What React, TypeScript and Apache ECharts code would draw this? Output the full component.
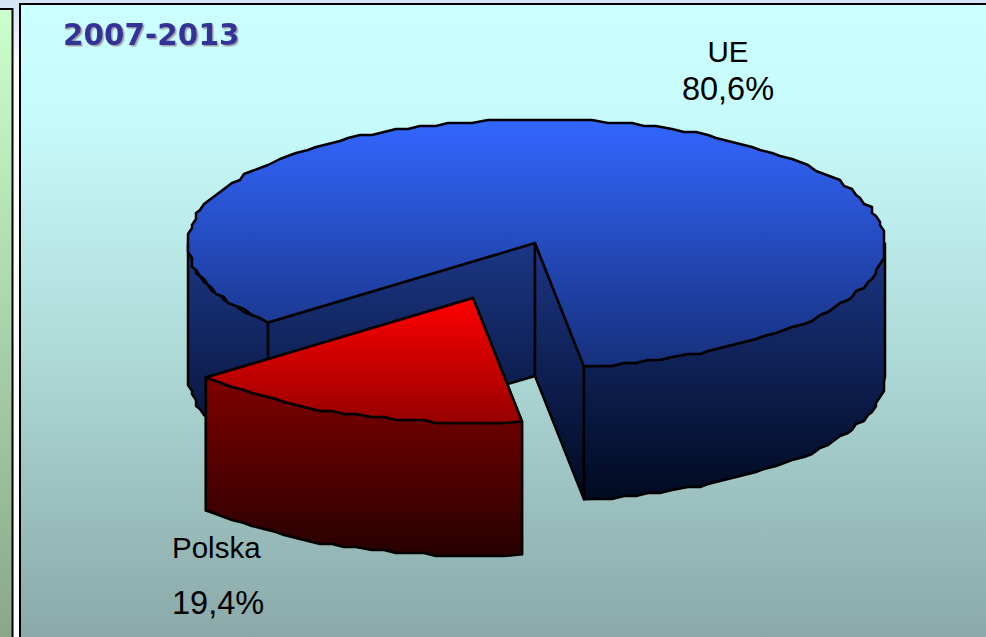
import React, { useEffect, useRef } from "react";
import * as echarts from "echarts";

const categories = ["UE", "Polska"];
const values = [80.6, 19.4];
const periodTitle = "2007-2013";

const W = 986, H = 637;
const CX = 536.5, CY = 243.5, RX = 348.5, RY = 124, DEPTH = 133;
const APEX_SHIFT = -1.5;
const START_DEG = 7.83;
const PERSPECTIVE_WARP = 0.834;
const EXPLODE = [[0, 0], [-62, 55]];
const LABEL_POS = [
  { x: 728, y: 51, gap: 38, align: "center" },
  { x: 172, y: 547, gap: 56, align: "left" },
];
const LG = (y0: number, y1: number, c0: string, c1: string) =>
  new echarts.graphic.LinearGradient(0, y0, 0, y1, [{ offset: 0, color: c0 }, { offset: 1, color: c1 }], true);
const FACE_STYLE = [
  { top: () => LG(120, 366, "#3366ff", "#16307c"), side: () => LG(243, 499, "#1c3685", "#000a20") },
  { top: () => LG(298, 424, "#ff0000", "#960000"), side: () => LG(378, 557, "#800000", "#260000") },
];

const rad = (d: number) => (d * Math.PI) / 180;
const pt = (cx: number, cy: number, t: number) => [cx + RX * Math.sin(rad(t)), cy + RY * Math.cos(rad(t))];
// the reference's outline is a coarse, pixel-snapped polyline
const arc = (cx: number, cy: number, t0: number, t1: number) => {
  const out: number[][] = [pt(cx, cy, t0)];
  const step = 2.2;
  for (let t = t0 + step; t < t1 - step / 2; t += step) {
    const p = pt(cx, cy, t);
    out.push([Math.round(p[0] / 4) * 4, Math.round(p[1] / 3) * 3]);
  }
  out.push(pt(cx, cy, t1));
  return out;
};
const down = (pts: number[][]) => pts.map((p) => [p[0], p[1] + DEPTH]).reverse();

function sliceAngles() {
  const total = values.reduce((a, b) => a + b, 0);
  const small = (values[1] / total) * 360 * PERSPECTIVE_WARP;
  const big = 360 - small;
  return [
    [START_DEG, START_DEG + big],
    [START_DEG + big, START_DEG + big + small],
  ];
}

export default function App() {
  const ref = useRef<HTMLDivElement>(null);
  useEffect(() => {
    document.body.style.margin = "0";
    const chart = echarts.init(ref.current!, null, { renderer: "svg" });
    const angles = sliceAngles();
    const stroke = { stroke: "#000", lineWidth: 2.5, lineJoin: "round" };
    const renderItem = (params: any, api: any) => {
      const i = params.dataIndex;
      const val = api.value(0) as number;
      const [t0, t1] = angles[i];
      const cx = CX + EXPLODE[i][0], cy = CY + EXPLODE[i][1];
      const rim = arc(cx, cy, t0, t1);
      const a = rim[0], b = rim[rim.length - 1];
      const apex = [cx + APEX_SHIFT, cy - 0.5];
      const children: any[] = [];
      const poly = (points: number[][], fill: any) => ({
        type: "polygon",
        shape: { points },
        style: { fill, ...stroke },
      });
      const wall = (p: number[], q: number[]) =>
        poly([p, q, [q[0], q[1] + DEPTH], [p[0], p[1] + DEPTH]], FACE_STYLE[i].side());
      children.push(wall(apex, b));
      children.push(wall(apex, a));
      const fronts: number[][] = [];
      for (const [lo, hi] of [[-90, 90], [270, 450]]) {
        const s = Math.max(t0, lo), e = Math.min(t1, hi);
        if (e > s) fronts.push([s, e]);
      }
      for (const [s, e] of fronts) {
        const top = arc(cx, cy, s, e);
        children.push(poly([...top, ...down(top)], FACE_STYLE[i].side()));
      }
      children.push(poly([apex, ...rim], FACE_STYLE[i].top()));
      const lp = LABEL_POS[i];
      const txt = (text: string, y: number, fontSize: number) => ({
        type: "text",
        x: lp.x,
        y,
        style: {
          text,
          fill: "#000",
          align: lp.align,
          verticalAlign: "middle",
          fontFamily: "'Liberation Sans'",
          fontSize,
          lineHeight: fontSize,
        },
      });
      children.push(txt(categories[i], lp.y, 29.5));
      children.push(txt(val.toFixed(1).replace(".", ",") + "%", lp.y + lp.gap, 32.5));
      return { type: "group", children };
    };

    chart.setOption({
      animation: false,
      title: {
        text: periodTitle,
        left: 58,
        top: 15,
        textStyle: {
          fontFamily: "'DejaVu Sans'",
          fontWeight: "bold",
          fontSize: 29.5,
          color: "#333399",
          textShadowColor: "#a0a0a8",
          textShadowOffsetX: 1.5,
          textShadowOffsetY: 1.5,
          textShadowBlur: 1,
        },
      },
      graphic: [
        {
          type: "rect",
          silent: true,
          shape: { x: 0, y: 0, width: W, height: H },
          style: {
            fill: new echarts.graphic.LinearGradient(0, 0, 0, 70, [
              { offset: 0, color: "#d3e4f6" },
              { offset: 1, color: "#ffffff" },
            ], true),
          },
        },
        {
          type: "rect",
          silent: true,
          shape: { x: -4, y: 9, width: 16.5, height: H + 10 },
          style: {
            fill: LG(9, H, "#ccffcc", "#89a889"),
            stroke: "#000",
            lineWidth: 2,
          },
        },
        {
          type: "rect",
          silent: true,
          shape: { x: 20, y: 4, width: W, height: H + 10 },
          style: {
            fill: new echarts.graphic.LinearGradient(0, 4, 0, H, [
              { offset: 0, color: "#ccffff" },
              { offset: 0.18, color: "#c7fbfb" },
              { offset: 0.55, color: "#aedad7" },
              { offset: 1, color: "#8ba9a9" },
            ], true),
            stroke: "#000",
            lineWidth: 2,
          },
        },
      ],
      series: [
        {
          type: "custom",
          coordinateSystem: "none",
          clip: false,
          silent: true,
          renderItem,
          data: categories.map((name, i) => ({ name, value: [values[i]] })),
        },
      ],
    });
    return () => chart.dispose();
  }, []);
  return <div ref={ref} style={{ width: W, height: H }} />;
}
